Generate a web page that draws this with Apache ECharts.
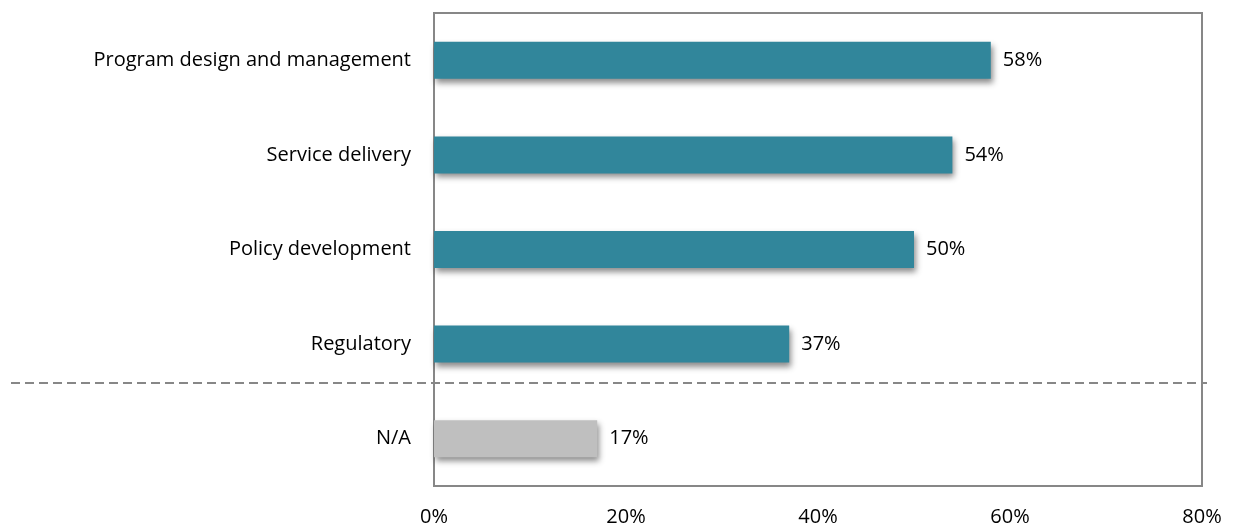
<!DOCTYPE html>
<html>
<head>
<meta charset="utf-8">
<style>
  html, body { margin: 0; padding: 0; background: #ffffff; }
  #chart { width: 1234px; height: 530px; }
</style>
<script src="https://cdn.jsdelivr.net/npm/echarts@6/dist/echarts.min.js"></script>
</head>
<body>
<div id="chart"></div>
<script>
// Categories listed bottom to top (ECharts category y-axis starts at the bottom)
const categories = ['N/A', 'Regulatory', 'Policy development', 'Service delivery', 'Program design and management'];
const shares = [17, 37, 50, 54, 58];
const barColors = ['#BFBFBF', '#31869B', '#31869B', '#31869B', '#31869B'];
const xTicks = [0, 20, 40, 60, 80];

const FONT = '"Open Sans", "Noto Sans", sans-serif';
const FONT_SIZE = 20;

const chart = echarts.init(document.getElementById('chart'), null, { renderer: 'canvas' });

const option = {
  animation: false,
  grid: { left: 434, right: 32, top: 13, bottom: 44, containLabel: false,
          show: true, borderColor: '#878787', borderWidth: 2, backgroundColor: 'transparent' },
  xAxis: {
    type: 'value',
    min: xTicks[0],
    max: xTicks[xTicks.length - 1],
    interval: 20,
    axisLine: { show: false },
    axisTick: { show: false },
    splitLine: { show: false },
    axisLabel: { formatter: v => v + '%', color: '#000', fontFamily: FONT, fontSize: FONT_SIZE, margin: 21 }
  },
  yAxis: {
    type: 'category',
    data: categories,
    axisLine: { show: false },
    axisTick: { show: false },
    axisLabel: { color: '#000', fontFamily: FONT, fontSize: FONT_SIZE, margin: 23 }
  },
  series: [{
    type: 'bar',
    data: shares.map((v, i) => ({ value: v, itemStyle: { color: barColors[i] } })),
    barWidth: 37,
    itemStyle: {
      shadowColor: 'rgba(0,0,0,0.45)',
      shadowBlur: 6,
      shadowOffsetX: 2,
      shadowOffsetY: 4
    },
    label: {
      show: true,
      position: 'right',
      distance: 12,
      formatter: p => p.value + '%',
      color: '#000',
      fontFamily: FONT,
      fontSize: FONT_SIZE
    }
  }]
};

chart.setOption(option);

// Dashed separator between the answered categories and N/A, spanning the full width
const yNA = chart.convertToPixel({ yAxisIndex: 0 }, 'N/A');
const yReg = chart.convertToPixel({ yAxisIndex: 0 }, 'Regulatory');
const sepY = Math.round(yReg + (yNA - yReg) * 0.41);
chart.setOption({
  graphic: [{
    type: 'line',
    shape: { x1: 11, y1: sepY, x2: 1207, y2: sepY },
    style: { stroke: '#878787', lineWidth: 2, lineDash: [9, 5] },
    z: 10
  }]
});
</script>
</body>
</html>
